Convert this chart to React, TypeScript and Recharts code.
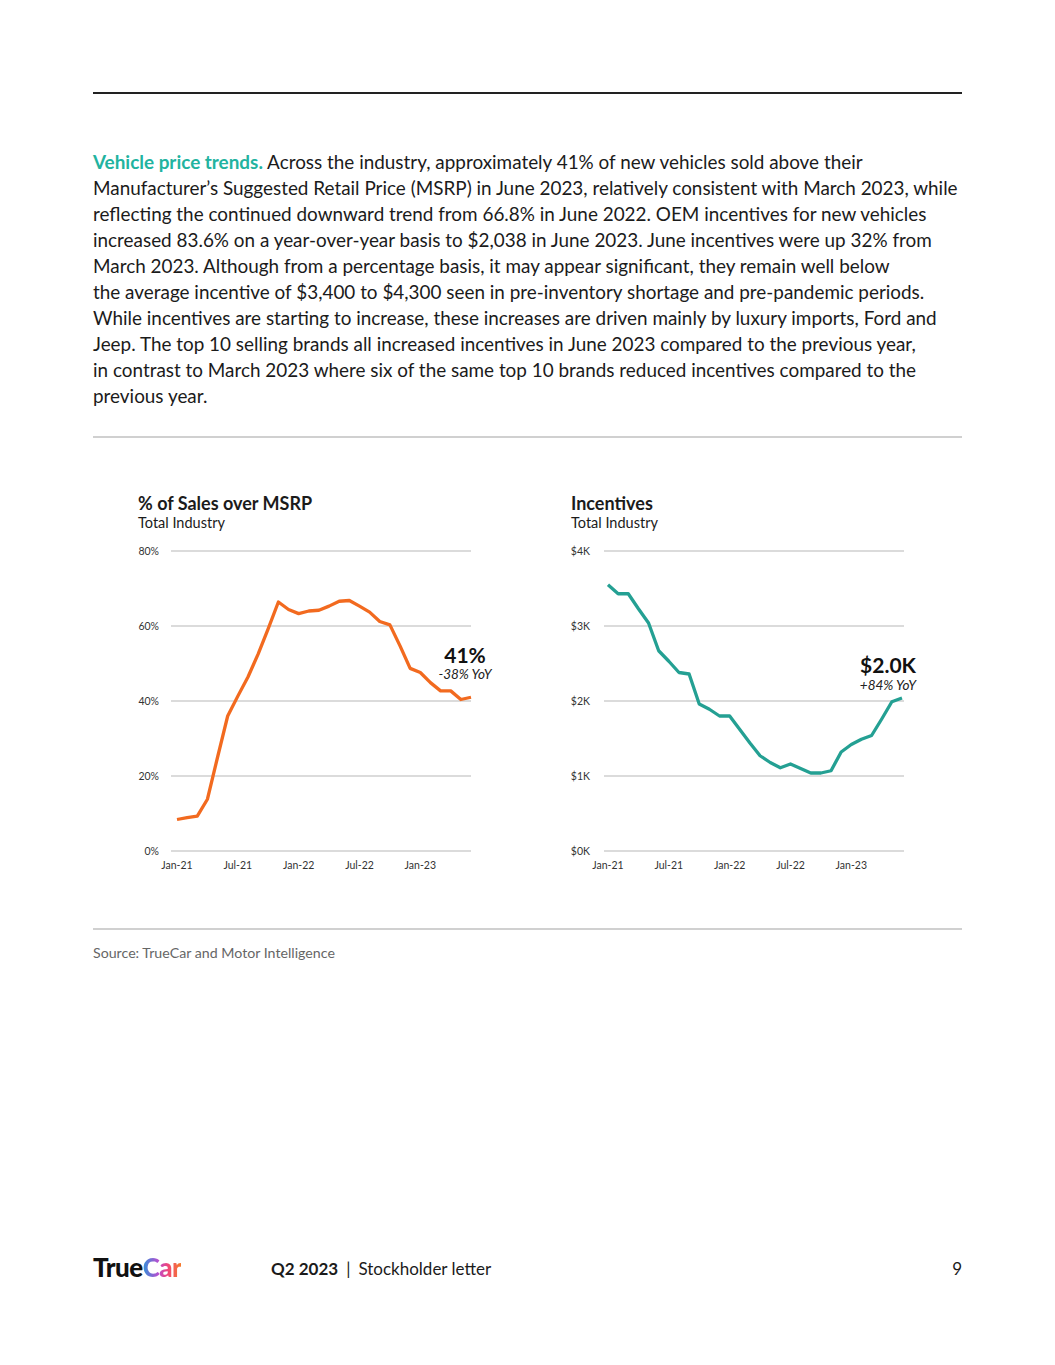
import React from 'react';
import { LineChart, Line, XAxis, YAxis, CartesianGrid, LabelList } from 'recharts';

// months Jan-21 .. Jun-23
const months = [
  'Jan-21', 'Feb-21', 'Mar-21', 'Apr-21', 'May-21', 'Jun-21',
  'Jul-21', 'Aug-21', 'Sep-21', 'Oct-21', 'Nov-21', 'Dec-21',
  'Jan-22', 'Feb-22', 'Mar-22', 'Apr-22', 'May-22', 'Jun-22',
  'Jul-22', 'Aug-22', 'Sep-22', 'Oct-22', 'Nov-22', 'Dec-22',
  'Jan-23', 'Feb-23', 'Mar-23', 'Apr-23', 'May-23', 'Jun-23',
];
const tickMonths = ['Jan-21', 'Jul-21', 'Jan-22', 'Jul-22', 'Jan-23'];

// % of sales over MSRP
const overMsrp = [
  8.4, 8.9, 9.3, 13.8, 25.0, 36.0,
  41.3, 46.4, 52.5, 59.3, 66.4, 64.4,
  63.3, 64.0, 64.2, 65.3, 66.6, 66.8,
  65.3, 63.7, 61.2, 60.3, 54.7, 48.7,
  47.6, 44.9, 42.7, 42.7, 40.4, 41.0,
];

// incentives, $K
const incentives = [
  3.55, 3.43, 3.43, 3.23, 3.04, 2.67,
  2.53, 2.38, 2.36, 1.96, 1.89, 1.80,
  1.80, 1.62, 1.44, 1.27, 1.18, 1.11,
  1.16, 1.10, 1.04, 1.04, 1.07, 1.32,
  1.42, 1.49, 1.54, 1.76, 1.99, 2.04,
];

const msrpTicks = [0, 20, 40, 60, 80];
const incentiveTicks = [0, 1, 2, 3, 4];

const paragraph = [
  ' Across the industry, approximately 41% of new vehicles sold above their',
  'Manufacturer\u2019s Suggested Retail Price (MSRP) in June 2023, relatively consistent with March 2023, while',
  'reflecting the continued downward trend from 66.8% in June 2022. OEM incentives for new vehicles',
  'increased 83.6% on a year-over-year basis to $2,038 in June 2023. June incentives were up 32% from',
  'March 2023. Although from a percentage basis, it may appear significant, they remain well below',
  'the average incentive of $3,400 to $4,300 seen in pre-inventory shortage and pre-pandemic periods.',
  'While incentives are starting to increase, these increases are driven mainly by luxury imports, Ford and',
  'Jeep. The top 10 selling brands all increased incentives in June 2023 compared to the previous year,',
  'in contrast to March 2023 where six of the same top 10 brands reduced incentives compared to the',
  'previous year.',
];

const font = 'Lato, "Noto Sans", sans-serif';
const ORANGE = '#F26A1F';
const TEAL = '#24A093';

const data = months.map((m, i) => ({ i, month: m, msrp: overMsrp[i], inc: incentives[i] }));
const tickIdx = tickMonths.map(t => months.indexOf(t));
const last = months.length - 1;

const tickStyle = { fontSize: 10.5, fill: '#333', fontFamily: font };

const renderEndLabel = (big: string, small: string, anchor: 'middle' | 'end', dx: number, bigDy: number, smallDy: number) =>
  (props: any) => {
    if (props.index !== last) return <g />;
    const x = Number(props.x) + dx;
    const y = Number(props.y);
    return (
      <g>
        <text x={x} y={y + bigDy} textAnchor={anchor} fontSize={21} fontWeight={700} fill="#111" fontFamily={font}>{big}</text>
        <text x={x} y={y + smallDy} textAnchor={anchor} fontSize={13.5} fontStyle="italic" fill="#222" fontFamily={font}>{small}</text>
      </g>
    );
  };

const App: React.FC = () => {
  return (
    <div style={{ position: 'absolute', top: 0, left: 0, width: 1055, height: 1365, background: '#fff', fontFamily: font, color: '#1b1b1b' }}>
      <div style={{ position: 'absolute', top: 92, left: 93, width: 869, height: 2, background: '#222' }} />

      <div style={{ position: 'absolute', top: 149, left: 93, fontSize: 18.9, lineHeight: '26px', whiteSpace: 'nowrap' }}>
        {paragraph.map((line, k) => (
          <div key={k}>
            {k === 0 && <span style={{ color: '#22B3A0', fontWeight: 700 }}>Vehicle price trends.</span>}
            {line}
          </div>
        ))}
      </div>

      <div style={{ position: 'absolute', top: 436, left: 93, width: 869, height: 2, background: '#d0d0d0' }} />

      <div style={{ position: 'absolute', top: 492, left: 138, fontSize: 18, lineHeight: '22px', fontWeight: 700 }}>% of Sales over MSRP</div>
      <div style={{ position: 'absolute', top: 514, left: 138, fontSize: 14.5, lineHeight: '18px' }}>Total Industry</div>
      <div style={{ position: 'absolute', top: 492, left: 571, fontSize: 18, lineHeight: '22px', fontWeight: 700 }}>Incentives</div>
      <div style={{ position: 'absolute', top: 514, left: 571, fontSize: 14.5, lineHeight: '18px' }}>Total Industry</div>

      <div style={{ position: 'absolute', top: 540, left: 130 }}>
        <LineChart width={380} height={340} data={data} margin={{ top: 11, right: 39, bottom: 0, left: 0 }}>
          <CartesianGrid vertical={false} stroke="#cfcfcf" strokeWidth={1.5} />
          <XAxis
            dataKey="i"
            type="number"
            domain={[0, last]}
            ticks={tickIdx}
            tickFormatter={(v: number) => months[v]}
            padding={{ left: 6, right: 0 }}
            axisLine={false}
            tickLine={false}
            height={29}
            tick={{ ...tickStyle, dy: 3 }}
            interval={0}
          />
          <YAxis
            domain={[0, 80]}
            ticks={msrpTicks}
            tickFormatter={(v: number) => `${v}%`}
            width={41}
            axisLine={false}
            tickLine={false}
            tickMargin={6}
            tick={tickStyle}
          />
          <Line dataKey="msrp" stroke={ORANGE} strokeWidth={3.3} dot={false} isAnimationActive={false} strokeLinejoin="round">
            <LabelList dataKey="msrp" content={renderEndLabel('41%', '-38% YoY', 'middle', -6, -34, -18)} />
          </Line>
        </LineChart>
      </div>

      <div style={{ position: 'absolute', top: 540, left: 563 }}>
        <LineChart width={380} height={340} data={data} margin={{ top: 11, right: 39, bottom: 0, left: 0 }}>
          <CartesianGrid vertical={false} stroke="#cfcfcf" strokeWidth={1.5} />
          <XAxis
            dataKey="i"
            type="number"
            domain={[0, last]}
            ticks={tickIdx}
            tickFormatter={(v: number) => months[v]}
            padding={{ left: 4, right: 2 }}
            axisLine={false}
            tickLine={false}
            height={29}
            tick={{ ...tickStyle, dy: 3 }}
            interval={0}
          />
          <YAxis
            domain={[0, 4]}
            ticks={incentiveTicks}
            tickFormatter={(v: number) => `$${v}K`}
            width={41}
            axisLine={false}
            tickLine={false}
            tickMargin={8}
            tick={tickStyle}
          />
          <Line dataKey="inc" stroke={TEAL} strokeWidth={3.3} dot={false} isAnimationActive={false} strokeLinejoin="round">
            <LabelList dataKey="inc" content={renderEndLabel('$2.0K', '+84% YoY', 'end', 14, -25, -8)} />
          </Line>
        </LineChart>
      </div>

      <div style={{ position: 'absolute', top: 928, left: 93, width: 869, height: 2, background: '#d0d0d0' }} />
      <div style={{ position: 'absolute', top: 944, left: 93, fontSize: 14.2, lineHeight: '18px', color: '#666' }}>Source: TrueCar and Motor Intelligence</div>

      <div style={{ position: 'absolute', top: 1252, left: 93, fontSize: 26, lineHeight: '30px', fontWeight: 900, letterSpacing: -0.5 }}>
        <span style={{ color: '#111' }}>True</span>
        <span style={{ background: 'linear-gradient(90deg, #2F8FD8 0%, #B84FD0 40%, #F0457A 65%, #F57B2A 100%)', WebkitBackgroundClip: 'text', backgroundClip: 'text', color: 'transparent' }}>Car</span>
      </div>
      <div style={{ position: 'absolute', top: 1258, left: 271, fontSize: 17, lineHeight: '22px', whiteSpace: 'nowrap' }}>
        <span style={{ fontWeight: 700 }}>Q2 2023</span>
        <span style={{ margin: '0 8px' }}>|</span>
        <span>Stockholder letter</span>
      </div>
      <div style={{ position: 'absolute', top: 1258, left: 940, width: 22, textAlign: 'right', fontSize: 17, lineHeight: '22px' }}>9</div>
    </div>
  );
};

export default App;
